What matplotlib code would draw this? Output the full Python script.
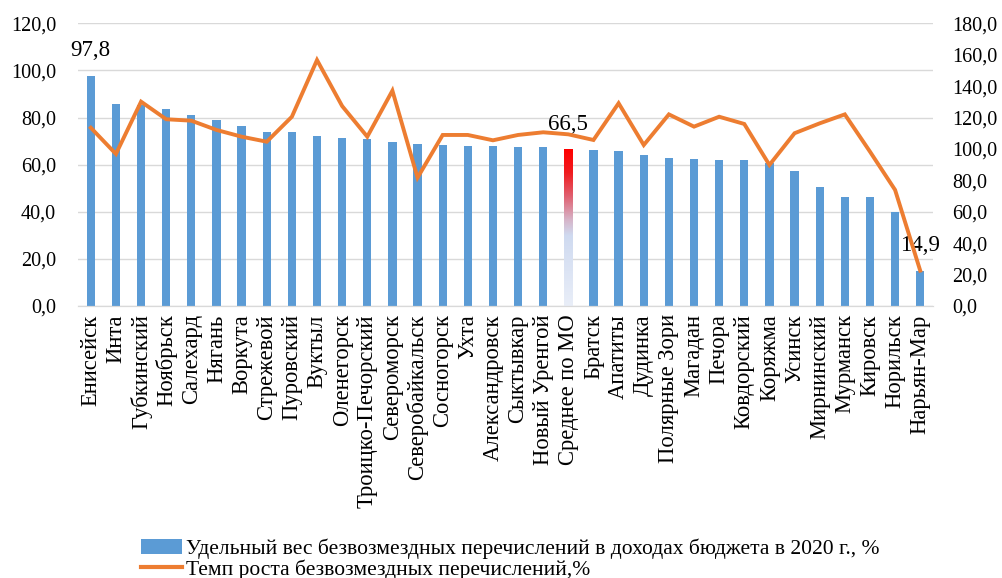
import numpy as np
import matplotlib
matplotlib.use('Agg')
from matplotlib import pyplot as plt
from matplotlib.colors import LinearSegmentedColormap
from matplotlib.lines import Line2D
from matplotlib.patches import Patch

plt.rcParams['font.family'] = ['Liberation Serif', 'DejaVu Serif']

# данные
cities = ['Енисейск', 'Инта', 'Губкинский', 'Ноябрьск', 'Салехард', 'Нягань',
          'Воркута', 'Стрежевой', 'Пуровский', 'Вуктыл', 'Оленегорск',
          'Троицко-Печорский', 'Североморск', 'Северобайкальск', 'Сосногорск',
          'Ухта', 'Александровск', 'Сыктывкар', 'Новый Уренгой', 'Среднее по МО',
          'Братск', 'Апатиты', 'Дудинка', 'Полярные Зори', 'Магадан', 'Печора',
          'Ковдорский', 'Коряжма', 'Усинск', 'Мирнинский', 'Мурманск', 'Кировск',
          'Норильск', 'Нарьян-Мар']
share = [97.8, 85.6, 85.5, 83.6, 81.1, 79.1, 76.5, 74.0, 74.0, 72.0, 71.4, 70.9,
         69.5, 68.9, 68.5, 67.9, 67.9, 67.5, 67.5, 66.5, 66.3, 65.9, 64.0, 63.0,
         62.4, 61.8, 61.8, 60.6, 57.3, 50.6, 46.1, 46.1, 39.8, 14.9]
growth = [113.5, 96.8, 130.1, 118.9, 118.0, 112.1, 107.8, 104.6, 120.5, 156.6,
          127.3, 107.8, 137.1, 81.7, 108.9, 108.9, 105.5, 108.9, 110.6, 109.3,
          105.7, 129.1, 102.5, 122.0, 114.2, 120.5, 115.9, 89.8, 110.0, 116.3,
          122.0, 98.3, 73.9, 22.5]
labeled = {'Енисейск': '97,8', 'Среднее по МО': '66,5', 'Нарьян-Мар': '14,9'}

blue = '#5B9BD5'
orange = '#ED7D31'
fs = 14.5

fig = plt.figure(figsize=(10.03, 5.78), dpi=100)
ax = fig.add_axes([0.078, 0.4706, 0.852, 0.4891])
ax2 = ax.twinx()

x = np.arange(len(cities))
bars = ax.bar(x, share, width=0.33, color=blue, zorder=2)

# градиентный столбец для среднего
avg_i = cities.index('Среднее по МО')
b = bars[avg_i]
b.set_facecolor('none')
cmap = LinearSegmentedColormap.from_list('avg', [
    (0.0, '#e9eef8'), (0.45, '#cfdaf0'), (0.55, '#d6b4c8'),
    (0.7, '#e06070'), (0.85, '#f01c20'), (1.0, '#ff0000')])
grad = np.linspace(0, 1, 256).reshape(-1, 1)
im = ax.imshow(grad, cmap=cmap, origin='lower', aspect='auto', zorder=2,
               extent=[b.get_x(), b.get_x() + b.get_width(), 0, b.get_height()])
im.set_clip_path(b)

for i, c in enumerate(cities):
    if c in labeled:
        ax.annotate(labeled[c], (i, share[i]), xytext=(0, 18), textcoords='offset points',
                    ha='center', va='center', fontsize=16.5, zorder=5)

ax2.plot(x, growth, color=orange, lw=2.8, zorder=3, solid_joinstyle='miter')

ax.set_xlim(-0.5, len(cities) - 0.5)
ax.set_ylim(0, 120)
ax2.set_ylim(0, 180)
ax.set_yticks(np.arange(0, 121, 20))
ax2.set_yticks(np.arange(0, 181, 20))
ax.set_yticklabels([f'{v:.1f}'.replace('.', ',') for v in range(0, 121, 20)], fontsize=fs)
ax2.set_yticklabels([f'{v:.1f}'.replace('.', ',') for v in range(0, 181, 20)], fontsize=fs)
ax.set_xticks(x)
ax.set_xticklabels(cities, rotation=90, fontsize=16.3, va='top', ha='center')
ax.tick_params(length=0, pad=6)
ax2.tick_params(length=0, pad=14)
ax.tick_params(axis='y', pad=16)

ax.grid(axis='y', color='#d9d9d9', lw=1, zorder=0)
ax.set_axisbelow(True)
for a in (ax, ax2):
    for s in ['top', 'left', 'right']:
        a.spines[s].set_visible(False)
    a.spines['bottom'].set_color('#d9d9d9')
ax2.set_zorder(ax.get_zorder() + 1)
ax2.patch.set_visible(False)

handles = [Patch(facecolor=blue, edgecolor='none'),
           Line2D([0], [0], color=orange, lw=3)]
names = ['Удельный вес безвозмездных перечислений в доходах бюджета в 2020 г., %',
         'Темп роста безвозмездных перечислений,%']
fig.legend(handles, names, loc='upper left', bbox_to_anchor=(0.132, 0.083),
           frameon=False, fontsize=15.5, handlelength=1.9, handletextpad=0.2,
           labelspacing=0.0, borderaxespad=0)

fig.savefig('out.png', dpi=100)
